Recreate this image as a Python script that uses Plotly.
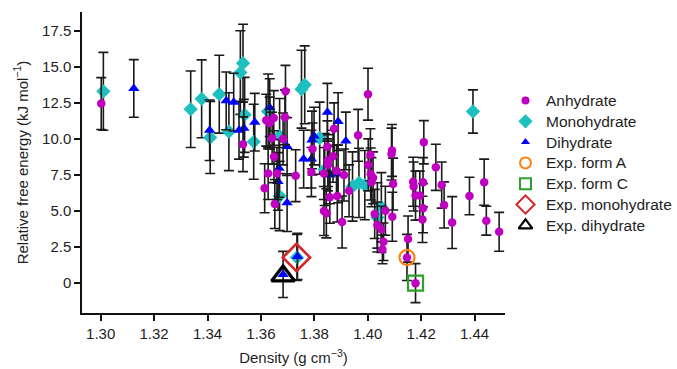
import plotly.graph_objects as go

# Anhydrate structures: density (g cm^-3), relative free energy (kJ/mol), uncertainty
anh_density = [1.3002, 1.3533, 1.3614, 1.3620, 1.3627, 1.3633, 1.3642, 1.3648, 1.3649, 1.3652,
               1.3660, 1.3683, 1.3690, 1.3692, 1.3730, 1.3789, 1.3793, 1.3836, 1.3836, 1.3845,
               1.3849, 1.3851, 1.3851, 1.3870, 1.3874, 1.3883, 1.3858, 1.3886, 1.3904, 1.3911,
               1.3930, 1.3964, 1.4001, 1.4010, 1.4002, 1.4020, 1.4014, 1.4026, 1.4036, 1.4051,
               1.4059, 1.4055, 1.4066, 1.4091, 1.4089, 1.4095, 1.4092, 1.4151, 1.4147, 1.4179,
               1.4170, 1.4172, 1.4179, 1.4195, 1.4207, 1.4207, 1.4205, 1.4210, 1.4255, 1.4277,
               1.4286, 1.4316, 1.4381, 1.4436, 1.4444, 1.4492, 1.4011]
anh_energy = [12.45, 9.63, 6.58, 11.30, 7.60, 11.10, 10.05, 11.45, 8.77, 5.49,
              7.60, 10.00, 11.50, 13.30, 7.45, 7.70, 9.30, 7.60, 5.00, 4.84,
              9.45, 8.50, 8.20, 8.80, 10.70, 7.80, 5.95, 6.04, 4.24, 7.50,
              6.40, 10.25, 13.10, 8.90, 8.20, 7.30, 7.00, 4.80, 4.03, 3.73,
              2.87, 2.34, 5.02, 9.20, 8.95, 6.87, 4.60, 3.06, 1.78, 0.00,
              7.03, 6.70, 6.07, 6.07, 7.00, 5.19, 4.42, 9.77, 8.03, 6.80,
              5.42, 4.20, 6.04, 7.00, 4.33, 3.56, 7.57]
anh_err = [1.8, 1.9, 1.7, 1.8, 1.8, 1.8, 1.8, 1.9, 1.8, 1.7,
           1.8, 1.8, 1.9, 1.8, 1.8, 1.7, 1.8, 1.8, 1.7, 1.7,
           1.8, 1.8, 1.8, 1.8, 1.8, 1.8, 1.8, 1.8, 1.8, 1.8,
           1.8, 1.8, 1.8, 1.8, 1.8, 1.8, 1.7, 1.7, 1.6, 1.6,
           1.3, 1.0, 1.7, 1.8, 1.8, 1.8, 1.7, 1.6, 1.6, 1.35,
           1.7, 1.7, 1.7, 1.7, 1.7, 1.7, 1.6, 1.5, 1.6, 1.6,
           1.6, 1.8, 1.3, 1.6, 1.0, 1.35, 1.8]

# Monohydrate structures
mono_density = [1.3010, 1.3337, 1.3378, 1.3410, 1.3444, 1.3480, 1.3523, 1.3533, 1.3539, 1.3573,
                1.3627, 1.3670, 1.3670, 1.3752, 1.3764, 1.3820, 1.3839, 1.3943, 1.3967, 1.3989,
                1.4051, 1.4036, 1.4394, 1.3735]
mono_energy = [13.30, 12.06, 12.78, 10.10, 13.10, 10.50, 14.60, 15.25, 11.67, 9.80,
               11.90, 10.20, 6.04, 13.45, 13.75, 10.05, 7.88, 6.70, 6.95, 6.80,
               5.26, 4.56, 11.90, 1.78]
mono_err = [2.7, 2.65, 2.7, 2.5, 2.7, 2.7, 2.9, 2.7, 2.6, 2.6,
            2.6, 2.6, 2.4, 2.7, 2.7, 2.5, 2.5, 2.4, 2.4, 2.4,
            2.4, 2.4, 1.5, 1.6]

# Dihydrate structures
di_density = [1.3124, 1.3408, 1.3470, 1.3498, 1.3518, 1.3536, 1.3577, 1.3633, 1.3664, 1.3668,
              1.3698, 1.3698, 1.3760, 1.3789, 1.3791, 1.3799, 1.3849, 1.3858, 1.3889, 1.3889,
              1.3918, 1.3737, 1.3683]
di_energy = [13.50, 10.60, 12.64, 12.55, 10.60, 10.74, 11.16, 12.17, 7.05, 7.96,
             9.47, 5.58, 8.60, 8.60, 9.93, 10.20, 11.85, 7.50, 11.20, 7.57,
             9.86, 1.85, 0.60]
di_err = [2.0, 2.1, 2.0, 2.0, 2.0, 2.0, 2.0, 2.0, 2.0, 2.0,
          2.0, 2.0, 2.0, 2.0, 2.0, 2.0, 2.0, 2.0, 2.0, 2.0,
          2.0, 1.6, 1.6]

# Experimental forms
exp_names = ["Exp. form A", "Exp. form C", "Exp. monohydrate", "Exp. dihydrate"]
exp_density = [1.4147, 1.4179, 1.3733, 1.3683]
exp_energy = [1.78, 0.00, 1.78, 0.50]

y_tickvals = [0, 2.5, 5.0, 7.5, 10.0, 12.5, 15.0, 17.5]
y_ticktext = ["0", "2.5", "5.0", "7.5", "10.0", "12.5", "15.0", "17.5"]
x_tickvals = [1.30, 1.32, 1.34, 1.36, 1.38, 1.40, 1.42, 1.44]
x_ticktext = ["1.30", "1.32", "1.34", "1.36", "1.38", "1.40", "1.42", "1.44"]

MAGENTA = "#C000C0"
CYAN = "#1EBFBF"
BLUE = "#0000FF"
BAR = "#1a1a1a"
TEXT = "#1e1e1e"

W, H = 677, 369
LEFT, TOP, BOTTOM = 82, 12, 56
PLOT_RIGHT = 505          # right end of the data axes, px

fig = go.Figure()


def err(vals):
    return dict(type="data", array=vals, visible=True, color=BAR, thickness=1.6, width=5)


series = [
    ("Monohydrate", mono_density, mono_energy, mono_err, "diamond", CYAN, 11),
    ("Dihydrate", di_density, di_energy, di_err, "triangle-up", BLUE, 10),
    ("Anhydrate", anh_density, anh_energy, anh_err, "circle", MAGENTA, 8.5),
]
for name, xs, ys, es, sym, col, sz in series:
    fig.add_trace(go.Scatter(
        x=xs, y=ys, mode="markers", name=name, showlegend=False,
        error_y=err(es),
        marker=dict(symbol=sym, color=col, size=sz, line=dict(width=0)),
    ))

exp_styles = [
    ("circle-open", "#FF7F0E", 15, 2.2),
    ("square-open", "#2CA02C", 15, 2.2),
    ("diamond-open", "#D62728", 21, 2.6),
    ("triangle-up-open", "#000000", 20, 3.2),
]
for i, (sym, col, sz, lw) in enumerate(exp_styles):
    fig.add_trace(go.Scatter(
        x=[exp_density[i]], y=[exp_energy[i]], mode="markers", name=exp_names[i],
        showlegend=False,
        marker=dict(symbol=sym, color=col, size=sz, line=dict(width=lw, color=col)),
    ))

# Key drawn on its own pixel-scaled axes to the right of the data
legend_items = [
    ("Anhydrate", "circle", MAGENTA, 8, 0),
    ("Monohydrate", "diamond", CYAN, 11, 0),
    ("Dihydrate", "triangle-up", BLUE, 8, 0),
    ("Exp. form A", "circle-open", "#FF7F0E", 11, 2),
    ("Exp. form C", "square-open", "#2CA02C", 11, 2),
    ("Exp. monohydrate", "diamond-open", "#D62728", 14, 2),
    ("Exp. dihydrate", "triangle-up-open", "#000000", 12, 2.2),
]
key_row0, key_step = 100.5, 20.8
key_marker_x, key_text_x = 525.5, 544
for i, (name, sym, col, sz, lw) in enumerate(legend_items):
    yk = key_row0 + i * key_step
    fig.add_trace(go.Scatter(
        x=[key_marker_x], y=[yk], xaxis="x2", yaxis="y2", mode="markers",
        showlegend=False, hoverinfo="skip", cliponaxis=False,
        marker=dict(symbol=sym, color=col, size=sz, line=dict(width=lw, color=col)),
    ))
    fig.add_annotation(x=key_text_x, y=yk, xref="x2", yref="y2", text=name,
                       showarrow=False, xanchor="left", yanchor="middle",
                       font=dict(size=15.5, color=TEXT))

plot_w = W - LEFT
split = (PLOT_RIGHT - LEFT) / plot_w

font_family = "Liberation Sans, Arial, Helvetica, sans-serif"
fig.update_layout(
    width=W, height=H,
    margin=dict(l=LEFT, r=0, t=TOP, b=BOTTOM, autoexpand=False),
    paper_bgcolor="white", plot_bgcolor="white",
    font=dict(family=font_family, size=15, color=TEXT),
    showlegend=False,
    xaxis=dict(
        domain=[0, split],
        range=[1.293, 1.4514], tickvals=x_tickvals, ticktext=x_ticktext,
        showgrid=False, zeroline=False, showline=True, linecolor="#111111", linewidth=1.5,
        ticks="outside", ticklen=6, tickwidth=1.5, tickcolor="#111111",
        tickfont=dict(size=15),
        title=dict(text="Density (g cm<sup>−3</sup>)", standoff=12, font=dict(size=15)),
    ),
    yaxis=dict(
        range=[-2.07, 18.8], tickvals=y_tickvals, ticktext=y_ticktext,
        showgrid=False, zeroline=False, showline=True, linecolor="#111111", linewidth=1.5,
        ticks="outside", ticklen=6, tickwidth=1.5, tickcolor="#111111",
        tickfont=dict(size=15),
        title=dict(text="Relative free energy (kJ mol<sup>−1</sup>)", standoff=10,
                   font=dict(size=15)),
    ),
    xaxis2=dict(domain=[split, 1], range=[PLOT_RIGHT, W], anchor="y2", visible=False,
                fixedrange=True),
    yaxis2=dict(domain=[0, 1], range=[H - BOTTOM, TOP], anchor="x2", visible=False,
                fixedrange=True),
)

fig.write_html("out.html")
